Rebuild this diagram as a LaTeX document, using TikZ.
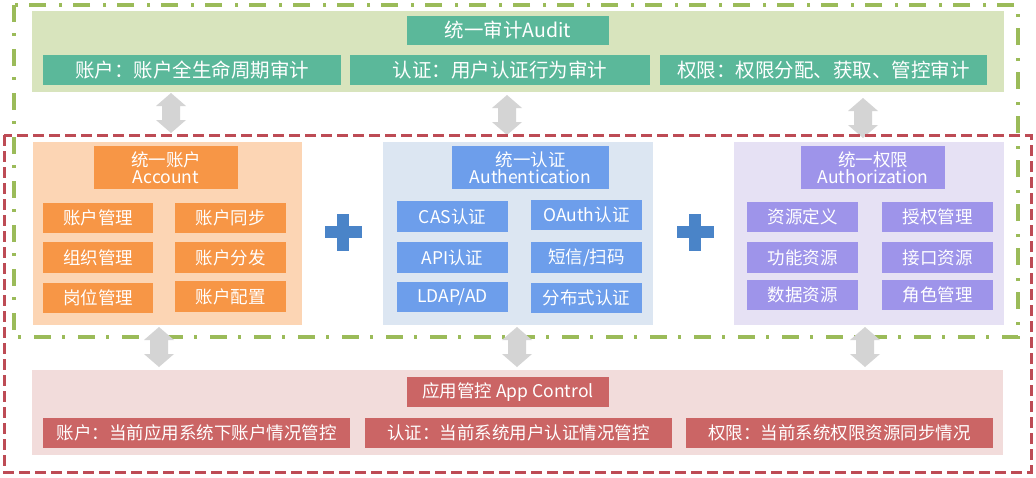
\documentclass[tikz,border=0pt]{standalone}
\usepackage{fontspec}
\setmainfont{Noto Sans CJK SC}
\definecolor{auditbg}{HTML}{D8E4BD}
\definecolor{auditbox}{HTML}{5BB89A}
\definecolor{accbg}{HTML}{FCD5B4}
\definecolor{accbox}{HTML}{F79646}
\definecolor{authbg}{HTML}{DCE6F2}
\definecolor{authbox}{HTML}{6D9EEB}
\definecolor{azbg}{HTML}{E6E1F4}
\definecolor{azbox}{HTML}{9E94EA}
\definecolor{appbg}{HTML}{F2DCDB}
\definecolor{appbox}{HTML}{CB6565}
\definecolor{plusblue}{HTML}{4A84C8}
\definecolor{arrowgray}{HTML}{D4D4D4}
\definecolor{olivedash}{HTML}{9BBB59}
\definecolor{reddash}{HTML}{BD4B55}
\tikzset{
  panel/.style={draw=none, inner sep=0pt, outer sep=0pt},
  tbox/.style={draw=none, inner sep=0pt, outer sep=0pt, text=white, align=center},
  big/.style={font=\fontsize{19.5}{22}\selectfont},
  mid/.style={font=\fontsize{17.5}{20}\selectfont},
  garrow/.pic={
    \fill[arrowgray] (0,-20) -- (15,-7) -- (9,-7) -- (9,7) -- (15,7) -- (0,20)
      -- (-15,7) -- (-9,7) -- (-9,-7) -- (-15,-7) -- cycle;
  },
  plussign/.pic={
    \fill[plusblue] (-18.5,-6) rectangle (18.5,6);
    \fill[plusblue] (-6,-18.5) rectangle (6,18.5);
  }
}
\newcommand{\bx}[7]{% name, style, x1, y1, x2, y2, text
  \node[#2, minimum width={(#5-#3)*1pt}, minimum height={(#6-#4)*1pt}] (#1) at ({(#3+#5)/2},{(#4+#6)/2}) {#7};}
\begin{document}
\begin{tikzpicture}[x=1pt,y=-1pt]
\useasboundingbox[fill=white] (0,0) rectangle (1036,477);
% panels
\bx{audit}{panel,fill=auditbg}{32}{11}{1004}{92}{}
\bx{acc}{panel,fill=accbg}{33}{142}{302}{325}{}
\bx{auth}{panel,fill=authbg}{383}{142}{653}{325}{}
\bx{az}{panel,fill=azbg}{734}{142}{1004}{325}{}
\bx{app}{panel,fill=appbg}{32}{370}{1003}{455}{}
% audit
\bx{auditT}{tbox,big,fill=auditbox}{407}{16}{609}{45}{统一审计Audit}
\bx{audit1}{tbox,big,fill=auditbox}{43}{55}{341}{85}{账户：账户全生命周期审计}
\bx{audit2}{tbox,big,fill=auditbox}{350}{55}{650}{85}{认证：用户认证行为审计}
\bx{audit3}{tbox,big,fill=auditbox}{660}{55}{987}{85}{权限：权限分配、获取、管控审计}
% account
\bx{accT}{tbox,mid,fill=accbox}{94}{146}{238}{189}{统一账户\\[-3pt]Account}
\bx{acc1}{tbox,mid,fill=accbox}{43}{203}{153}{233}{账户管理}
\bx{acc2}{tbox,mid,fill=accbox}{175}{203}{286}{233}{账户同步}
\bx{acc3}{tbox,mid,fill=accbox}{43}{242}{153}{273}{组织管理}
\bx{acc4}{tbox,mid,fill=accbox}{175}{242}{286}{273}{账户分发}
\bx{acc5}{tbox,mid,fill=accbox}{43}{283}{153}{313}{岗位管理}
\bx{acc6}{tbox,mid,fill=accbox}{175}{281}{286}{312}{账户配置}
% authentication
\bx{authT}{tbox,mid,fill=authbox}{452}{146}{609}{189}{统一认证\\[-3pt]Authentication}
\bx{auth1}{tbox,mid,fill=authbox}{397}{201}{508}{232}{CAS认证}
\bx{auth2}{tbox,mid,fill=authbox}{531}{200}{642}{230}{OAuth认证}
\bx{auth3}{tbox,mid,fill=authbox}{397}{242}{508}{273}{API认证}
\bx{auth4}{tbox,mid,fill=authbox}{531}{242}{642}{273}{短信/扫码}
\bx{auth5}{tbox,mid,fill=authbox}{397}{282}{508}{312}{LDAP/AD}
\bx{auth6}{tbox,mid,fill=authbox}{531}{283}{642}{313}{分布式认证}
% authorization
\bx{azT}{tbox,mid,fill=azbox}{801}{146}{945}{189}{统一权限\\[-3pt]Authorization}
\bx{az1}{tbox,mid,fill=azbox}{747}{202}{858}{232}{资源定义}
\bx{az2}{tbox,mid,fill=azbox}{882}{202}{993}{232}{授权管理}
\bx{az3}{tbox,mid,fill=azbox}{747}{242}{858}{273}{功能资源}
\bx{az4}{tbox,mid,fill=azbox}{882}{242}{993}{273}{接口资源}
\bx{az5}{tbox,mid,fill=azbox}{747}{280}{858}{310}{数据资源}
\bx{az6}{tbox,mid,fill=azbox}{882}{280}{993}{310}{角色管理}
% app control
\bx{appT}{tbox,mid,fill=appbox}{407}{377}{609}{407}{应用管控 App Control}
\bx{app1}{tbox,mid,fill=appbox}{43}{418}{350}{448}{账户：当前应用系统下账户情况管控}
\bx{app2}{tbox,mid,fill=appbox}{365}{418}{672}{448}{认证：当前系统用户认证情况管控}
\bx{app3}{tbox,mid,fill=appbox}{686}{418}{993}{448}{权限：当前系统权限资源同步情况}
% plus signs
\pic at (343,232) {plussign};
\pic at (695,232) {plussign};
% green dash-dot frame
\draw[olivedash, line width=3.5pt, dash pattern=on 17pt off 11pt on 3pt off 13pt] (14,5) rectangle (1018,337);
% arrows
\pic at (171,113) {garrow};
\pic at (507,115) {garrow};
\pic at (863,118) {garrow};
\pic at (159,347) {garrow};
\pic at (517,347) {garrow};
\pic at (865,347) {garrow};
% red dashed frame
\draw[reddash, line width=3pt, dash pattern=on 11pt off 5pt] (4,135) rectangle (1031,472);
\end{tikzpicture}
\end{document}
